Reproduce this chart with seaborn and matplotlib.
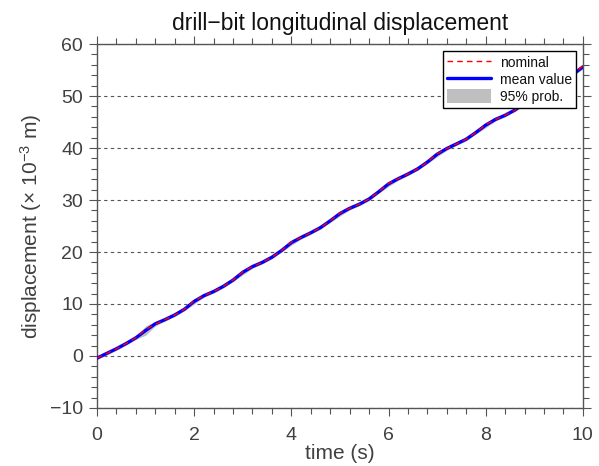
import numpy as np
import matplotlib
matplotlib.use("Agg")
import matplotlib.pyplot as plt
import seaborn as sns
from matplotlib.ticker import MultipleLocator
from matplotlib.patches import Patch
from matplotlib.lines import Line2D

# time samples (s)
time_s = [0.0, 0.2, 0.4, 0.6, 0.8, 1.0, 1.2, 1.4, 1.6, 1.8,
          2.0, 2.2, 2.4, 2.6, 2.8, 3.0, 3.2, 3.4, 3.6, 3.8,
          4.0, 4.2, 4.4, 4.6, 4.8, 5.0, 5.2, 5.4, 5.6, 5.8,
          6.0, 6.2, 6.4, 6.6, 6.8, 7.0, 7.2, 7.4, 7.6, 7.8,
          8.0, 8.2, 8.4, 8.6, 8.8, 9.0, 9.2, 9.4, 9.6, 9.8, 10.0]

# mean displacement (x 1e-3 m)
mean_disp = [-0.4, 0.5, 1.4, 2.4, 3.5, 4.9, 6.2, 7.0, 7.9, 9.0,
             10.5, 11.6, 12.4, 13.4, 14.6, 16.1, 17.2, 18.0, 19.0, 20.3,
             21.8, 22.8, 23.7, 24.7, 26.0, 27.4, 28.4, 29.2, 30.2, 31.6,
             33.1, 34.1, 35.0, 36.0, 37.3, 38.8, 39.9, 40.8, 41.7, 43.0,
             44.4, 45.5, 46.3, 47.3, 48.6, 50.0, 51.0, 51.9, 52.9, 54.2, 55.6]

# nominal displacement (x 1e-3 m)
nominal_disp = [-0.4, 0.5, 1.4, 2.4, 3.5, 5.1, 6.1, 7.0, 7.9, 9.0,
                10.6, 11.6, 12.4, 13.4, 14.6, 16.2, 17.2, 18.0, 19.0, 20.3,
                21.9, 22.8, 23.7, 24.7, 26.0, 27.5, 28.4, 29.2, 30.2, 31.6,
                33.2, 34.1, 35.0, 36.0, 37.3, 38.9, 39.9, 40.8, 41.7, 43.0,
                44.5, 45.5, 46.3, 47.3, 48.6, 50.1, 51.0, 51.9, 52.9, 54.2, 55.8]

# half width of the 95% band
band_half = [0.3, 0.3, 0.3, 0.3, 0.3, 0.9, 0.4, 0.3, 0.3, 0.3,
             0.5, 0.3, 0.3, 0.3, 0.3, 0.5, 0.3, 0.3, 0.3, 0.3,
             0.5, 0.3, 0.3, 0.3, 0.3, 0.5, 0.3, 0.3, 0.3, 0.3,
             0.5, 0.3, 0.3, 0.3, 0.3, 0.5, 0.3, 0.3, 0.3, 0.3,
             0.5, 0.3, 0.3, 0.3, 0.3, 0.5, 0.3, 0.3, 0.3, 0.3, 0.4]

sns.set_style("ticks")
plt.rcParams['font.family'] = ['Liberation Sans', 'DejaVu Sans']
plt.rcParams['mathtext.fontset'] = 'custom'
plt.rcParams['mathtext.rm'] = 'Liberation Sans'
plt.rcParams['mathtext.it'] = 'Liberation Sans:italic'

txt = '#404040'
edge = '#555555'

fig = plt.figure(figsize=(5.99, 4.66), dpi=100)
ax = fig.add_axes([0.162, 0.1245, 0.811, 0.781])

t = np.array(time_s)
m = np.array(mean_disp)
h = np.array(band_half)
ax.fill_between(t, m - h, m + h, color='#bfbfbf', lw=0, zorder=2)
sns.lineplot(x=time_s, y=mean_disp, ax=ax, color='#0000ff', lw=2.4, zorder=3)
sns.lineplot(x=time_s, y=nominal_disp, ax=ax, color='#ff0000', lw=1.0,
             dashes=False, zorder=4).lines[-1].set_dashes([4, 3])

ax.set_xlim(0, 10)
ax.set_ylim(-10, 60)
ax.xaxis.set_major_locator(MultipleLocator(2))
ax.xaxis.set_minor_locator(MultipleLocator(0.4))
ax.yaxis.set_major_locator(MultipleLocator(10))
ax.yaxis.set_minor_locator(MultipleLocator(2))
ax.tick_params(which='both', direction='out', top=True, right=True,
               color=edge, labelcolor=txt, labelsize=14)
ax.tick_params(which='major', length=6, width=0.8)
ax.tick_params(which='minor', length=4, width=0.8)
ax.tick_params(axis='x', which='major', pad=8)
ax.tick_params(axis='y', which='major', pad=4)
for s in ax.spines.values():
    s.set_color(edge)
    s.set_linewidth(1.0)

ax.yaxis.grid(True, which='major', linestyle=(0, (3, 3)), color='#555555', lw=0.8)
ax.set_axisbelow(True)

ax.set_title('drill\u2212bit longitudinal displacement', fontsize=16.5, color='#111111', pad=10)
ax.set_xlabel('time (s)', fontsize=15, color=txt, labelpad=0)
ax.set_ylabel(r'displacement ($\times$ 10$^{-3}$ m)', fontsize=15, color=txt, labelpad=4)

handles = [Line2D([], [], color='#ff0000', lw=1.0, dashes=[4, 3]),
           Line2D([], [], color='#0000ff', lw=2.4),
           Patch(facecolor='#bfbfbf', edgecolor='none')]
leg = ax.legend(handles, ['nominal', 'mean value', '95% prob.'], loc='upper right',
                fontsize=10, frameon=True, fancybox=False, framealpha=1,
                edgecolor='black', handlelength=3.2, handleheight=1.2,
                borderpad=0.3, labelspacing=0.15, handletextpad=0.6,
                borderaxespad=0.5)
leg.get_frame().set_linewidth(1.0)
for tx in leg.get_texts():
    tx.set_color('#111111')
leg.set_zorder(10)

fig.savefig('out.png', dpi=100)
